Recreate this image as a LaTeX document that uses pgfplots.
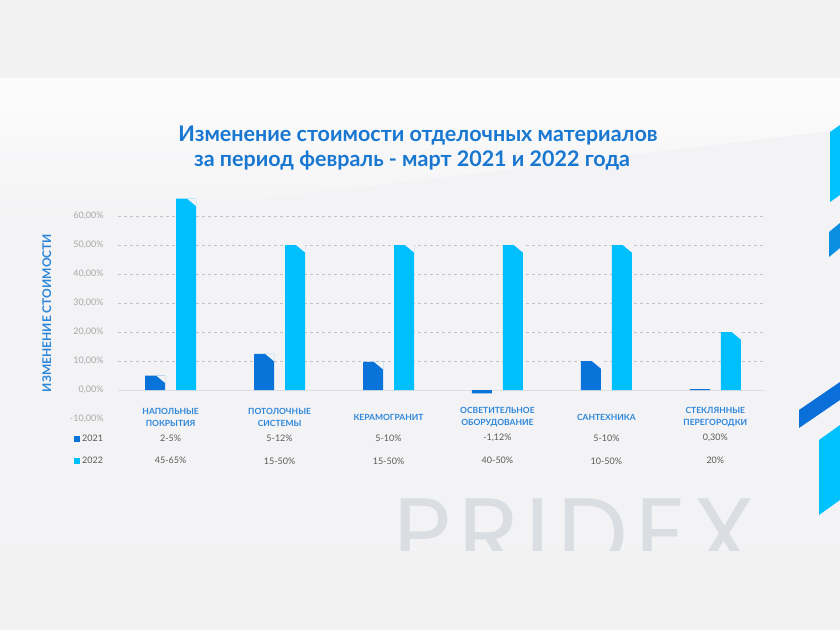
\documentclass[border=0pt]{standalone}
\usepackage{fontspec}
\setmainfont{Lato}
\newfontfamily\wmfont{Poppins}[LetterSpace=7]
\usepackage{pgfplots}
\usepackage{pgfplotstable}
\pgfplotsset{compat=1.18}
\definecolor{bg}{HTML}{F2F2F3}
\definecolor{panel}{HTML}{F3F3F5}
\definecolor{cA}{HTML}{0A73D9}
\definecolor{cB}{HTML}{00BFFF}
\definecolor{titleblue}{HTML}{1877D0}
\definecolor{catblue}{HTML}{2C86DA}
\definecolor{tickgray}{HTML}{A8A8A8}
\definecolor{valgray}{HTML}{5A5A5A}
\definecolor{gridgray}{HTML}{C4C4C4}
\definecolor{wm}{HTML}{DADEE2}
\definecolor{decoA}{HTML}{00C2FF}
\definecolor{decoB}{HTML}{0A8FE3}
\definecolor{decoC}{HTML}{0A6FD8}
\tikzset{
  cat/.style={align=center, font=\bfseries\fontsize{8.5}{12}\selectfont, text=catblue, yshift=2pt},
  val/.style={font=\fontsize{9}{11}\selectfont, text=valgray},
}

\pgfplotstableread{
x v
0 5
1 12.5
2 9.7
4 10
}\dataAbig
\pgfplotstableread{
x v
3 -1.12
5 0.3
}\dataAsmall
\pgfplotstableread{
x v
0 66
1 50
2 50
3 50
4 50
5 20
}\dataB

\begin{document}
\begin{tikzpicture}
\begin{scope}[x=1pt,y=1pt]
\useasboundingbox (0,0) rectangle (840,630);
\fill[bg] (0,0) rectangle (840,630);
\fill[panel] (0,80) rectangle (840,552);
\shade[top color=white, bottom color=panel, opacity=0.8] (0,552) -- (840,552) -- (840,500) -- (0,400) -- cycle;
% watermark
\begin{scope}
\clip (0,80) rectangle (840,552);
\node[anchor=base west, inner sep=0, text=wm, font=\wmfont\fontsize{100}{100}\selectfont] at (393,62) {PRIDEX};
\end{scope}
% decorations
\fill[decoA] (830,428) -- (840,435) -- (840,505) -- (830,498) -- cycle;
\fill[decoB] (829,373) -- (840,382) -- (840,407) -- (829,398) -- cycle;
\fill[decoC] (799,202) -- (799,220) -- (840,248) -- (840,230) -- cycle;
\fill[decoA] (819,115) -- (840,130) -- (840,205) -- (819,190) -- cycle;
% title
\node[text=titleblue, font=\bfseries\fontsize{21.5}{24}\selectfont] at (418,494) {Изменение стоимости отделочных материалов};
\node[text=titleblue, font=\bfseries\fontsize{21.5}{24}\selectfont] at (412,470) {за период февраль - март 2021 и 2022 года};
\end{scope}

\begin{axis}[
  at={(118pt,211pt)}, anchor=south west,
  scale only axis, width=647pt, height=232pt,
  xmin=-0.483, xmax=5.456, ymin=-10, ymax=70,
  clip=false,
  axis line style={draw=none},
  tick style={draw=none},
  xtick=\empty,
  ytick={-10,0,...,60},
  yticklabels={{-10,00\%},{0,00\%},{10,00\%},{20,00\%},{30,00\%},{40,00\%},{50,00\%},{60,00\%}},
  yticklabel style={font=\fontsize{9}{10}\selectfont, text=tickgray, anchor=east, xshift=-11pt},
  extra y ticks={10,20,...,60},
  extra y tick labels={},
  extra y tick style={grid=major},
  major grid style={gridgray, dash pattern=on 3pt off 3pt, line width=0.6pt},
  ylabel={ИЗМЕНЕНИЕ СТОИМОСТИ},
  ylabel style={at={(axis description cs:-0.11,0.457)}, anchor=center, font=\bfseries\fontsize{12}{14}\selectfont, text=catblue},
  legend style={at={(axis description cs:-0.068,-0.058)}, anchor=north west, draw=none, fill=none,
    font=\fontsize{9}{11}\selectfont, text=valgray, row sep=10pt, inner sep=0pt, nodes={inner sep=2pt, xshift=2pt}},
  legend cell align=left,
  legend image code/.code={\fill[#1] (0pt,-3pt) rectangle (6pt,3pt);},
  chamfer/.style={nodes near coords={\relax},
    every node near coord/.style={anchor=north west, inner sep=0pt, outer sep=0pt,
      minimum width=9pt, minimum height=7.5pt, xshift=#1, yshift=0pt,
      path picture={\fill[panel] (path picture bounding box.north west) -- (path picture bounding box.north east) -- (path picture bounding box.south east) -- cycle;}}},
]
\addplot[forget plot, gray!25, line width=0.8pt] coordinates {(-0.483,0) (5.456,0)};
\addplot[forget plot, ybar, bar width=20pt, bar shift=-15.5pt, fill=cA, draw=none, chamfer=-14.5pt] table[x=x,y=v] {\dataAbig};
\addplot[forget plot, ybar, bar width=20pt, bar shift=-15.5pt, fill=cA, draw=none] table[x=x,y=v] {\dataAsmall};
\addplot[forget plot, ybar, bar width=20pt, bar shift=15.5pt, fill=cB, draw=none, chamfer=16.5pt] table[x=x,y=v] {\dataB};
\addlegendimage{fill=cA, draw=none}
\addlegendentry{2021}
\addlegendimage{fill=cB, draw=none}
\addlegendentry{2022}

\node[cat] at (axis cs:0,-10) {НАПОЛЬНЫЕ\\ПОКРЫТИЯ};
\node[cat] at (axis cs:1,-10) {ПОТОЛОЧНЫЕ\\СИСТЕМЫ};
\node[cat] at (axis cs:2,-10) {КЕРАМОГРАНИТ};
\node[cat] at (axis cs:3,-10) {ОСВЕТИТЕЛЬНОЕ\\ОБОРУДОВАНИЕ};
\node[cat] at (axis cs:4,-10) {САНТЕХНИКА};
\node[cat] at (axis cs:5,-10) {СТЕКЛЯННЫЕ\\ПЕРЕГОРОДКИ};

\node[val] at (axis cs:0,-16.5) {2-5\%};
\node[val] at (axis cs:1,-16.5) {5-12\%};
\node[val] at (axis cs:2,-16.5) {5-10\%};
\node[val] at (axis cs:3,-16.5) {-1,12\%};
\node[val] at (axis cs:4,-16.5) {5-10\%};
\node[val] at (axis cs:5,-16.5) {0,30\%};

\node[val] at (axis cs:0,-24.2) {45-65\%};
\node[val] at (axis cs:1,-24.5) {15-50\%};
\node[val] at (axis cs:2,-24.5) {15-50\%};
\node[val] at (axis cs:3,-24.3) {40-50\%};
\node[val] at (axis cs:4,-24.5) {10-50\%};
\node[val] at (axis cs:5,-24.2) {20\%};
\end{axis}
\end{tikzpicture}
\end{document}
